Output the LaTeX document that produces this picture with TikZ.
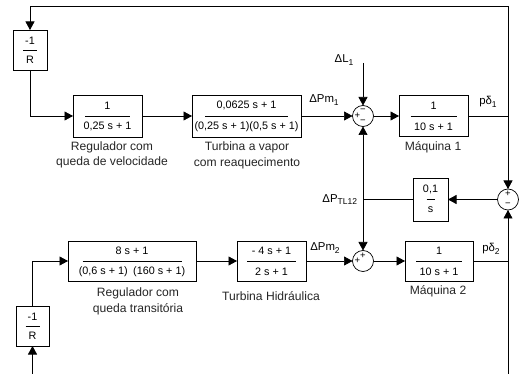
\documentclass[tikz,border=0pt]{standalone}
\usepackage{fontspec}
\setmainfont{Liberation Sans}
\usetikzlibrary{arrows.meta}
\newcommand\tfb[9]{%
 \node[blk, minimum width=#4pt, minimum height=#5pt] (#1) at (#2,#3) {};
 \node[ft] (#1n) at ([yshift=#7pt]#1.center) {#8};
 \node[ft] (#1d) at ([yshift=-#7pt]#1.center) {#9};
 \draw[line width=0.6pt] ([xshift=-#6pt/2]#1.center) -- ([xshift=#6pt/2]#1.center);
}
\newcommand\lowsub[1]{\raisebox{-2.2pt}{\fontsize{8.5}{9}\selectfont #1}}
\begin{document}
\begin{tikzpicture}[x=1pt,y=-1pt,
  every node/.style={inner sep=0pt, outer sep=0pt},
  blk/.style={draw, line width=0.7pt, fill=white},
  sumj/.style={draw, circle, line width=0.7pt, minimum size=21pt},
  ln/.style={line width=0.7pt},
  arr/.style={line width=0.7pt, -{Triangle[length=8.5pt,width=9pt]}},
  ft/.style={font=\fontsize{10.8}{12}\selectfont},
  lb/.style={font=\fontsize{12.1}{15.5}\selectfont, align=center, text=black!85},
  sl/.style={font=\fontsize{11.4}{12}\selectfont},
  sg/.style={font=\fontsize{9.5}{9}\selectfont},
]
\useasboundingbox[fill=white] (0,0) rectangle (525,374);

% blocks
\tfb{rA}{30}{50}{34}{40}{14}{9.5}{-1}{R}
\tfb{g1}{107.5}{116}{69}{42}{45}{10.5}{1}{0,25 s + 1}
\tfb{t1}{246.5}{116}{109}{42}{83}{10.5}{0,0625 s + 1}{(0,25 s + 1)(0,5 s + 1)}
\tfb{m1}{433.5}{116}{69}{41}{46}{10.5}{1}{10 s + 1}
\tfb{k}{430.5}{199.5}{35}{43}{8}{10.5}{0,1}{s}
\tfb{g2}{132}{261}{128}{40}{99}{10.5}{8 s + 1}{(0,6 s + 1)\enspace(160 s + 1)}
\tfb{t2}{271.5}{261}{69}{40}{49}{10.5}{- 4 s + 1}{2 s + 1}
\tfb{m2}{439}{261}{68}{40}{46}{10.5}{1}{10 s + 1}
\tfb{rB}{32.5}{326}{33}{40}{14}{9.5}{-1}{R}

% summing junctions
\node[sumj] (s1) at (363,116) {};
\node[sumj] (s2) at (363,261) {};
\node[sumj] (s3) at (508,199.5) {};
\node[sg] at ([xshift=-5.5pt]s1.center) {+};
\node[sg] at ([yshift=5.5pt]s1.center) {−};
\node[sg] at ([yshift=-5.5pt]s1.center) {−};
\node[sg] at ([xshift=-5.5pt]s2.center) {+};
\node[sg] at ([yshift=5.5pt]s2.center) {+};
\node[sg] at ([yshift=5.5pt]s3.center) {+};
\node[sg] at ([yshift=-5.5pt]s3.center) {−};

% coordinates
\coordinate (j1) at (508,116);
\coordinate (top) at (30,6);
\coordinate (j2) at (508,261);
\coordinate (br) at (508,374);
\coordinate (bl) at (32.5,374);
\coordinate (dl) at (363,63);
\coordinate (jt) at (363,199.5);

% connectors
\draw[ln] (m1.east) -- (j1);
\draw[arr] (j1) |- (top) -- (rA.north);
\draw[arr] (j1) -- (s3.north);
\draw[arr] (rA.south) |- (g1.west);
\draw[arr] (g1.east) -- (t1.west);
\draw[arr] (t1.east) -- (s1.west);
\draw[arr] (dl) -- (s1.north);
\draw[arr] (s1.east) -- (m1.west);
\draw[arr] (s3.west) -- (k.east);
\draw[ln] (k.west) -- (jt);
\draw[arr] (jt) -- (s1.south);
\draw[arr] (jt) -- (s2.north);
\draw[arr] (bl) -- (rB.south);
\draw[arr] (rB.north) |- (g2.west);
\draw[arr] (g2.east) -- (t2.west);
\draw[arr] (t2.east) -- (s2.west);
\draw[arr] (s2.east) -- (m2.west);
\draw[ln] (m2.east) -- (j2);
\draw[arr] (br) -- (s3.south);

% block labels
\node[lb] at (112,155) {Regulador com\\queda de velocidade};
\node[lb] at (247,155.5) {Turbina a vapor\\com reaquecimento};
\node[lb] at (433,147.5) {Máquina 1};
\node[lb] at (138,301.5) {Regulador com\\queda transitória};
\node[lb] at (271,296) {Turbina Hidráulica};
\node[lb] at (438,291) {Máquina 2};

% signal labels
\node[sl] at (344,60) {ΔL\lowsub{1}};
\node[sl] at (324,100) {ΔPm\lowsub{1}};
\node[sl] at (488,102) {pδ\lowsub{1}};
\node[sl, anchor=east] at (357,199.5) {ΔP\lowsub{TL12}};
\node[sl] at (325,248) {ΔPm\lowsub{2}};
\node[sl] at (491,249) {pδ\lowsub{2}};
\end{tikzpicture}
\end{document}
